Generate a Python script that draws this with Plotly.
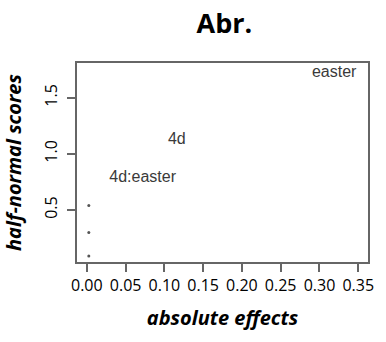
import plotly.graph_objects as go

# data
dot_x = [0.0025, 0.0025, 0.0025]
dot_y = [0.09, 0.30, 0.54]
lab_x = [0.072, 0.116, 0.319]
lab_y = [0.786, 1.125, 1.72]
labels = ["4d:easter", "4d", "easter"]
x_ticks = [0.00, 0.05, 0.10, 0.15, 0.20, 0.25, 0.30, 0.35]
y_ticks = [0.5, 1.0, 1.5]

fig = go.Figure()
fig.add_trace(go.Scatter(x=dot_x, y=dot_y, mode="markers",
                         marker=dict(size=3, color="#555"), showlegend=False))
fig.add_trace(go.Scatter(x=lab_x, y=lab_y, mode="text", text=labels,
                         textposition="middle center",
                         textfont=dict(family="Liberation Sans", size=16, color="#3a3a3a"),
                         showlegend=False))

fig.update_layout(
    width=386, height=342,
    margin=dict(l=77, r=14, t=63, b=80),
    paper_bgcolor="white", plot_bgcolor="white",
    title=dict(text="<b>Abr.</b>", x=0.5815, xanchor="center", y=0.93, yanchor="middle",
               font=dict(family="Open Sans", size=27, color="black")),
    xaxis=dict(range=[-0.0127, 0.3626], tickvals=x_ticks,
               ticktext=[f"{v:.2f}" for v in x_ticks],
               showgrid=False, zeroline=False, showline=True, mirror=True,
               linecolor="#666", linewidth=2, ticks="outside", ticklen=8,
               tickcolor="#666", tickwidth=1.5,
               tickfont=dict(family="Open Sans", size=16, color="black"),
               title=dict(text="<b><i>absolute effects</i></b>", standoff=16,
                          font=dict(family="Open Sans", size=20, color="black"))),
    yaxis=dict(range=[0.036, 1.81], tickvals=y_ticks,
               ticktext=[f"{v:.1f}" for v in y_ticks], tickangle=-90,
               ticklabelstandoff=4,
               showgrid=False, zeroline=False, showline=True, mirror=True,
               linecolor="#666", linewidth=2, ticks="outside", ticklen=8,
               tickcolor="#666", tickwidth=1.5,
               tickfont=dict(family="Open Sans", size=16, color="black"),
               title=dict(text="<b><i>half-normal scores</i></b>", standoff=14,
                          font=dict(family="Open Sans", size=20, color="black"))),
)

fig.write_html("out.html")
